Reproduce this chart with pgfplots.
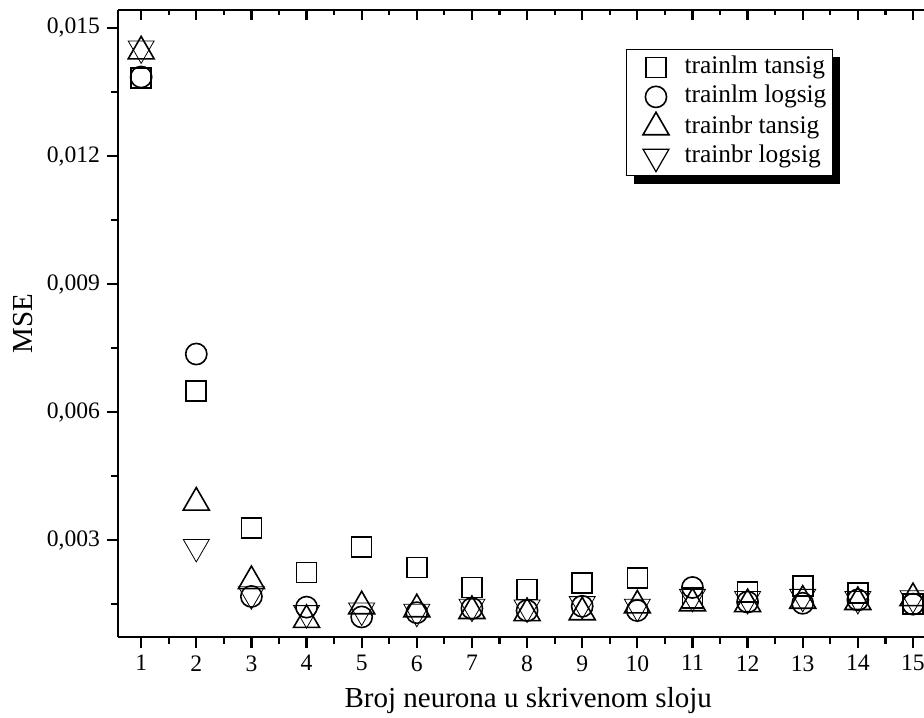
\documentclass[border=0pt]{standalone}
\usepackage{fontspec}
\setmainfont{Liberation Serif}
\usepackage{pgfplots}
\usepackage{pgfplotstable}
\pgfplotsset{compat=1.18}
\usetikzlibrary{shadows}

\pgfplotstableread{
x sq ci tu td
1 0.01382 0.01385 0.01445 0.01452
2 0.00649 0.00736 0.00388 0.00284
3 0.00329 0.00168 0.00204 0.00173
4 0.00224 0.00143 0.00113 0.00129
5 0.00284 0.00120 0.00145 0.00135
6 0.00236 0.00130 0.00138 0.00132
7 0.00189 0.00140 0.00134 0.00144
8 0.00184 0.00135 0.00129 0.00142
9 0.00199 0.00145 0.00131 0.00150
10 0.00211 0.00135 0.00147 0.00144
11 0.00165 0.00189 0.00152 0.00167
12 0.00178 0.00155 0.00150 0.00162
13 0.00193 0.00152 0.00158 0.00167
14 0.00176 0.00160 0.00155 0.00162
15 0.00150 0.00150 0.00164 0.00164
}\datatable

\pgfplotsset{
  base/.style={
    width=403pt, height=313.5pt, scale only axis,
    xmin=0.58, xmax=15.2, ymin=0.00073, ymax=0.01542,
    axis line style={line width=1.3pt},
    every tick/.style={black, line width=1.1pt},
    tick label style={font=\fontsize{11.8}{14}\selectfont},
    /pgf/number format/assume math mode=true,
    clip=false,
  },
  mk/.style={only marks, mark options={solid, draw=black, fill=none, line width=0.8pt},
    legend image code/.code={\path (0pt,0pt) (25.5pt,0pt); \draw[##1] plot coordinates {(12.5pt,0pt)};}},
}

\begin{document}
\begin{tikzpicture}
% main axis: data, y ticks
\begin{axis}[base,
  axis x line*=bottom, axis y line*=left,
  xtick=\empty,
  ytick={0.003,0.006,0.009,0.012,0.015},
  minor ytick={0.0015,0.0045,0.0075,0.0105,0.0135},
  scaled y ticks=false,
  yticklabel style={/pgf/number format/.cd, fixed, fixed zerofill, precision=3, use comma},
  tick align=outside,
  major tick length=5.5pt, minor tick length=3.5pt,
  ylabel={MSE},
  ylabel style={at={(axis description cs:-0.118,0.5)}, anchor=center,
    font=\fontsize{14.5}{17}\selectfont},
  legend style={at={(0.630,0.938)}, anchor=north west, draw=black, line width=0.6pt,
    fill=white, inner sep=2pt,
    drop shadow={shadow xshift=4pt, shadow yshift=-4pt, fill=black, opacity=1},
    font=\fontsize{12.7}{14.5}\selectfont,
    nodes={inner sep=1pt, text height=9pt, text depth=3pt}, row sep=0.7pt},
  legend cell align=left,
]
\addplot[mk, mark=square, mark size=5pt] table[x=x, y=sq] {\datatable};
\addlegendentry{trainlm tansig}
\addplot[mk, mark=o, mark size=5.3pt] table[x=x, y=ci] {\datatable};
\addlegendentry{trainlm logsig}
\addplot[mk, mark=triangle, mark size=7.5pt] table[x=x, y=tu] {\datatable};
\addlegendentry{trainbr tansig}
\addplot[mk, mark=triangle, mark size=7.5pt, mark options={rotate=180}] table[x=x, y=td] {\datatable};
\addlegendentry{trainbr logsig}
\node[anchor=base, inner sep=0pt, font=\fontsize{14.5}{17}\selectfont]
  at (rel axis cs:0.509,0) [yshift=-35pt] {Broj neurona u skrivenom sloju};
\end{axis}
% bottom x ticks and labels
\begin{axis}[base,
  axis x line*=bottom, axis y line=none,
  xtick={1,...,15}, minor x tick num=1,
  tick align=outside,
  major tick length=5.5pt, minor tick length=3.5pt,
  xticklabel style={inner sep=1pt, yshift=-2.5pt},
]
\end{axis}
% top line with inward ticks
\begin{axis}[base,
  axis x line*=top, axis y line=none,
  xtick={1,...,15}, minor x tick num=1, xticklabels={},
  tick align=inside,
  major tick length=5pt, minor tick length=2.5pt,
]
\end{axis}
\pgfresetboundingbox
\path (-59pt,-40pt) rectangle (403pt,318.5pt);
\end{tikzpicture}
\end{document}
